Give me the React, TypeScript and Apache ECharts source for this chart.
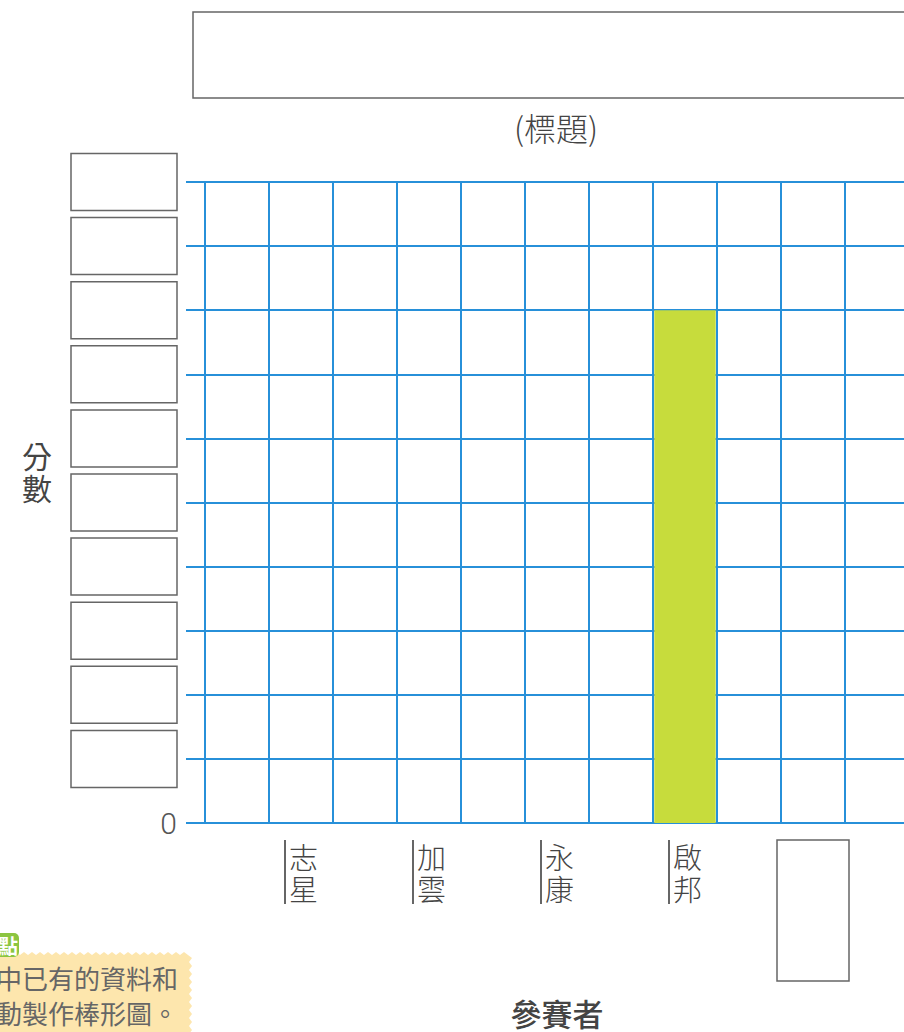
import React, { useEffect, useRef } from "react";
import * as echarts from "echarts";

// ---- data ----
const participants: string[] = ["志星", "加雲", "永康", "啟邦", ""]; // "" = blank box to fill in
const scores: (number | null)[] = [null, null, null, 8, null];
const yTickLabels: string[] = ["0", "", "", "", "", "", "", "", "", "", ""]; // "" = blank box
const yMax = 10;
const columnCount = 11;
const titleHint = "(標題)";
const yName = "分數";
const xName = "參賽者";
const noteLines = ["中已有的資料和", "動製作棒形圖。"];
const noteBadge = "點";

const CJK = '"Noto Sans CJK TC", "Noto Sans CJK SC", sans-serif';
const BLUE = "#2790d9";
const GRAY = "#666";

export default function App() {
  const ref = useRef<HTMLDivElement>(null);
  useEffect(() => {
    if (!ref.current) return;
    const chart = echarts.init(ref.current, undefined, { renderer: "svg" });

    const xCats: string[] = [];
    const barData: (number | null)[] = [];
    for (let c = 0; c < columnCount; c++) {
      const idx = (c - 1) / 2;
      if (c % 2 === 1 && idx < participants.length) {
        xCats.push(participants[idx] === "" ? "□" : participants[idx]);
        barData.push(scores[idx]);
      } else {
        xCats.push("_" + c);
        barData.push(null);
      }
    }

    // scalloped note background (decoration)
    const notePts: number[][] = [[-10, 1040], [-10, 954]];
    for (let x = 0; x <= 186; x += 8) notePts.push([x, 952], [x + 4, 955]);
    for (let y = 958; y <= 1040; y += 8) notePts.push([192, y], [189, y + 4]);
    notePts.push([192, 1040]);

    chart.setOption({
      animation: false,
      backgroundColor: "#fff",
      grid: { left: 205, top: 182, right: 3, bottom: 209, outerBoundsMode: "none", containLabel: false },
      xAxis: {
        type: "category",
        data: xCats,
        boundaryGap: true,
        name: xName,
        nameLocation: "middle",
        nameGap: 174,
        nameTextStyle: { fontFamily: CJK, fontSize: 31, fontWeight: 500, color: "#444" },
        axisLine: { show: true, lineStyle: { color: BLUE, width: 2 } },
        axisTick: { show: false },
        splitLine: { show: true, interval: 0, lineStyle: { color: BLUE, width: 2 } },
        axisLabel: {
          interval: 0,
          margin: 17,
          formatter: (v: string) => {
            if (v.startsWith("_")) return "";
            if (v === "□") return "{box|}";
            return v.split("").map((ch) => `{l|}{t|${ch}}`).join("\n");
          },
          rich: {
            l: { width: 2, height: 32, backgroundColor: GRAY },
            t: { fontSize: 29, lineHeight: 32, height: 32, padding: [0, 0, 0, 3], color: "#444", fontFamily: CJK, fontWeight: 300 },
            box: { width: 72, height: 141, borderColor: GRAY, borderWidth: 1.5 },
          },
        },
      },
      yAxis: {
        type: "value",
        min: 0,
        max: yMax,
        interval: 1,
        name: yName.split("").join("\n") + "\n\n",
        nameLocation: "middle",
        nameRotate: 0,
        nameGap: 153,
        nameTextStyle: { fontFamily: CJK, fontSize: 30, lineHeight: 32, color: "#444" },
        axisLine: { show: true, lineStyle: { color: BLUE, width: 2 } },
        axisTick: { show: true, length: 19, lineStyle: { color: BLUE, width: 2 } },
        splitLine: { show: true, lineStyle: { color: BLUE, width: 2 } },
        axisLabel: {
          margin: 28,
          formatter: (v: number) => {
            const t = yTickLabels[Math.round(v)];
            return t === "" ? "{box|}" : `{zero|${t}}`;
          },
          rich: {
            box: { width: 106, height: 57, borderColor: GRAY, borderWidth: 1.5 },
            zero: { fontSize: 30, fontWeight: 300, color: "#555", fontFamily: "Roboto, sans-serif" },
          },
        },
      },
      series: [
        {
          type: "bar",
          data: barData,
          barWidth: "96%",
          itemStyle: { color: "#c7dc3c" },
          z: 3,
        },
      ],
      graphic: [
        { type: "rect", shape: { x: 193, y: 12, width: 760, height: 86 }, style: { fill: "none", stroke: GRAY, lineWidth: 1.5 } },
        {
          type: "text",
          x: 556,
          y: 127,
          style: { text: titleHint, fontFamily: CJK, fontSize: 32, fontWeight: 300, fill: "#444", align: "center", verticalAlign: "middle" },
        },
        { type: "polygon", shape: { points: notePts }, style: { fill: "#fde6ad" } },
        { type: "rect", shape: { x: -10, y: 933, width: 29, height: 24, r: 5 }, style: { fill: "#8cc540" } },
        { type: "text", x: 18, y: 945, style: { text: noteBadge, fontFamily: CJK, fontSize: 20, fontWeight: 700, fill: "#fff", align: "right", verticalAlign: "middle" } },
        { type: "text", x: 178, y: 977, style: { text: noteLines[0], fontFamily: CJK, fontSize: 26, fill: "#666", align: "right", verticalAlign: "middle" } },
        { type: "text", x: 178, y: 1012, style: { text: noteLines[1], fontFamily: CJK, fontSize: 26, fill: "#666", align: "right", verticalAlign: "middle" } },
      ],
    });
    return () => chart.dispose();
  }, []);

  return (
    <div style={{ position: "absolute", left: 0, top: 0, width: 904, height: 1032, overflow: "hidden", background: "#fff" }}>
      <div ref={ref} style={{ width: 912, height: 1032 }} />
    </div>
  );
}
